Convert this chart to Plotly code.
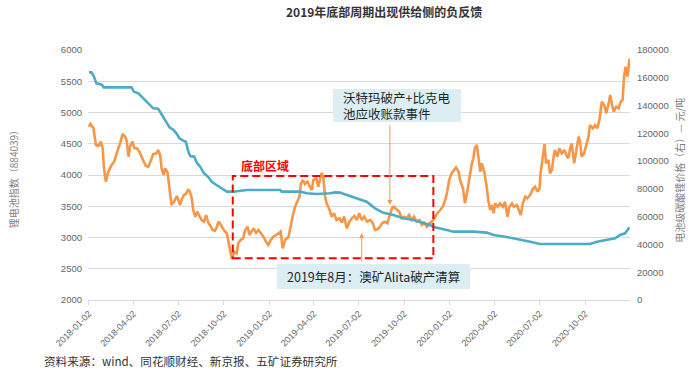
import plotly.graph_objects as go

# ---------------- data ----------------
index_dates = [
    "2018-01-02","2018-01-05","2018-01-11","2018-01-16","2018-01-21","2018-01-26","2018-01-30","2018-02-01",
    "2018-02-05","2018-02-10","2018-02-17","2018-02-22","2018-02-27","2018-03-04","2018-03-07","2018-03-11",
    "2018-03-16","2018-03-19","2018-03-23","2018-03-26","2018-03-31","2018-04-04","2018-04-09","2018-04-14",
    "2018-04-19","2018-04-23","2018-04-27","2018-05-02","2018-05-07","2018-05-12","2018-05-18","2018-05-22",
    "2018-05-26","2018-05-29","2018-06-02","2018-06-05","2018-06-10","2018-06-14","2018-06-18","2018-06-23",
    "2018-06-29","2018-07-02","2018-07-05","2018-07-09","2018-07-13","2018-07-17","2018-07-22","2018-07-26",
    "2018-07-29","2018-08-01","2018-08-05","2018-08-09","2018-08-13","2018-08-18","2018-08-23","2018-08-27",
    "2018-09-01","2018-09-05","2018-09-09","2018-09-14","2018-09-18","2018-09-21","2018-09-24","2018-09-28",
    "2018-10-02","2018-10-08","2018-10-13","2018-10-18","2018-10-23","2018-10-28","2018-10-31","2018-11-05",
    "2018-11-10","2018-11-14","2018-11-19","2018-11-23","2018-11-27","2018-12-01","2018-12-06","2018-12-11",
    "2018-12-16","2018-12-21","2018-12-26","2018-12-31","2019-01-05","2019-01-10","2019-01-16","2019-01-20",
    "2019-01-25","2019-01-29","2019-02-03","2019-02-10","2019-02-14","2019-02-18","2019-02-23","2019-02-28",
    "2019-03-04","2019-03-07","2019-03-11","2019-03-15","2019-03-20","2019-03-25","2019-03-29","2019-04-01",
    "2019-04-07","2019-04-11","2019-04-15","2019-04-18","2019-04-21","2019-04-25","2019-04-28","2019-05-04",
    "2019-05-08","2019-05-13","2019-05-18","2019-05-24","2019-05-29","2019-06-02","2019-06-08","2019-06-13",
    "2019-06-18","2019-06-23","2019-06-28","2019-07-03","2019-07-08","2019-07-13","2019-07-15","2019-07-19",
    "2019-07-25","2019-07-30","2019-08-04","2019-08-09","2019-08-14","2019-08-19","2019-08-24","2019-08-29",
    "2019-09-03","2019-09-07","2019-09-11","2019-09-17","2019-09-22","2019-09-27","2019-10-02","2019-10-07",
    "2019-10-12","2019-10-17","2019-10-22","2019-10-27","2019-11-02","2019-11-07","2019-11-11","2019-11-17",
    "2019-11-22","2019-11-27","2019-11-30","2019-12-03","2019-12-08","2019-12-14","2019-12-19","2019-12-24",
    "2019-12-28","2020-01-01","2020-01-06","2020-01-11","2020-01-15","2020-01-20","2020-01-23","2020-01-29",
    "2020-02-02","2020-02-06","2020-02-09","2020-02-12","2020-02-16","2020-02-19","2020-02-22","2020-02-26",
    "2020-02-29","2020-03-04","2020-03-07","2020-03-12","2020-03-17","2020-03-20","2020-03-24","2020-03-27",
    "2020-03-31","2020-04-03","2020-04-08","2020-04-13","2020-04-19","2020-04-23","2020-04-28","2020-05-02",
    "2020-05-07","2020-05-11","2020-05-17","2020-05-20","2020-05-25","2020-05-29","2020-06-03","2020-06-07",
    "2020-06-13","2020-06-18","2020-06-23","2020-06-28","2020-07-02","2020-07-04","2020-07-08","2020-07-12",
    "2020-07-15","2020-07-20","2020-07-23","2020-07-27","2020-07-30","2020-08-02","2020-08-07","2020-08-11",
    "2020-08-16","2020-08-21","2020-08-25","2020-08-29","2020-09-02","2020-09-05","2020-09-10","2020-09-14",
    "2020-09-19","2020-09-22","2020-09-25","2020-09-30","2020-10-04","2020-10-09","2020-10-12","2020-10-18",
    "2020-10-22","2020-10-27","2020-10-31","2020-11-05","2020-11-10","2020-11-14","2020-11-18","2020-11-22",
    "2020-11-25","2020-11-29","2020-12-04","2020-12-09","2020-12-13","2020-12-17","2020-12-20","2020-12-23",
    "2020-12-27","2020-12-30","2020-12-31",
]
index_values = [
    4773,4816,4747,4480,4464,4533,4416,4133,
    3893,4053,4160,4213,4347,4453,4533,4656,
    4613,4560,4293,4453,4533,4427,4427,4373,
    4267,4213,4144,4133,4229,4336,4347,4400,
    4320,4107,4000,4107,4037,3813,3520,3573,
    3664,3600,3520,3611,3680,3696,3771,3717,
    3627,3440,3333,3413,3344,3280,3253,3360,
    3227,3184,3120,3109,3173,3253,3227,3173,
    3120,3067,2827,2660,2773,2747,2907,2960,
    2987,3120,3173,3040,3093,3147,3077,3120,
    3067,3013,2933,2880,2960,3013,3040,3067,
    3093,2827,2960,3013,3200,3333,3493,3600,
    3653,3867,3920,3856,3893,3813,3760,3920,
    3947,3813,3920,4037,3973,3653,3547,3440,
    3333,3387,3280,3307,3237,3333,3147,3253,
    3307,3344,3280,3387,3280,3333,3307,3253,
    3280,3237,3120,3131,3173,3237,3253,3227,
    3360,3467,3493,3440,3413,3307,3333,3307,
    3360,3280,3333,3253,3280,3200,3237,3173,
    3227,3253,3291,3333,3387,3440,3493,3600,
    3733,3920,4027,4080,4123,4053,3920,3787,
    3547,3707,3867,4027,4187,4267,4427,4480,
    4293,4053,4187,4053,3813,3600,3440,3520,
    3387,3547,3493,3547,3493,3573,3333,3493,
    3547,3493,3520,3467,3360,3547,3653,3627,
    3680,3771,3813,3733,3787,4027,4293,4496,
    4187,4240,4027,4080,4267,4400,4293,4427,
    4347,4400,4320,4267,4427,4507,4187,4373,
    4613,4533,4293,4347,4453,4613,4800,4747,
    4800,4747,4880,5173,5120,4987,5120,5280,
    5147,5013,5093,5067,5173,5200,5573,5733,
    5573,5840,5860,
]

price_dates = [
    "2018-01-02","2018-01-07","2018-01-12","2018-01-17","2018-01-28","2018-02-01","2018-03-29","2018-04-03",
    "2018-04-12","2018-04-19","2018-04-25","2018-05-06","2018-05-12","2018-05-22","2018-05-29","2018-06-07",
    "2018-06-14","2018-06-22","2018-06-29","2018-07-04","2018-07-12","2018-07-17","2018-07-22","2018-07-26",
    "2018-08-03","2018-08-08","2018-08-15","2018-08-23","2018-09-01","2018-09-07","2018-09-17","2018-10-02",
    "2018-10-08","2018-10-21","2018-11-17","2019-01-24","2019-01-27","2019-03-05","2019-03-19","2019-04-08",
    "2019-04-21","2019-05-05","2019-05-15","2019-05-25","2019-06-08","2019-06-21","2019-07-05","2019-07-18",
    "2019-08-04","2019-08-21","2019-09-10","2019-09-30","2019-10-21","2019-11-10","2019-11-23","2019-12-03",
    "2019-12-14","2019-12-27","2020-01-10","2020-02-19","2020-03-17","2020-03-31","2020-04-23","2020-05-23",
    "2020-06-13","2020-07-03","2020-10-12","2020-10-26","2020-11-15","2020-12-02","2020-12-12","2020-12-22",
    "2020-12-31",
]
price_values = [
    163900,163900,160800,156000,155000,153100,153100,150000,
    148800,146400,143900,140400,138000,137700,133200,128400,
    124300,122400,119500,116400,114700,114000,106800,103700,
    103200,98900,96000,91200,88300,85200,82800,79200,
    78000,78000,79200,79200,78000,78000,76800,76300,
    76300,76800,77500,77300,75600,74000,72000,70800,
    66000,62800,61200,58800,57600,55700,54000,52300,
    51600,50400,49200,49200,48500,46800,45600,43700,
    42000,40300,40300,42000,43200,44400,46800,48000,
    52300,
]

tick_labels = ["2018-01-02","2018-04-02","2018-07-02","2018-10-02","2019-01-02","2019-04-02",
               "2019-07-02","2019-10-02","2020-01-02","2020-04-02","2020-07-02","2020-10-02"]

title_text = "2019年底部周期出现供给侧的负反馈"
left_title = "锂电池指数（884039）"
right_title = "电池级碳酸锂价格（右）— 元/吨"
source_text = "资料来源：wind、同花顺财经、新京报、五矿证券研究所"
note_box = "沃特玛破产+比克电<br>池应收账款事件"
note_alita = "2019年8月：澳矿Alita破产清算"
bottom_label = "底部区域"

ORANGE = "#F79646"
TEAL = "#4BACC6"
FONT = "Noto Sans CJK SC"

fig = go.Figure()
fig.add_trace(go.Scatter(x=price_dates, y=price_values, yaxis="y2", mode="lines",
                         line=dict(color=TEAL, width=2.6), name="电池级碳酸锂价格"))
fig.add_trace(go.Scatter(x=index_dates, y=index_values, yaxis="y", mode="lines",
                         line=dict(color=ORANGE, width=2.6), name="锂电池指数"))

# bottom region rectangle
fig.add_shape(type="rect", xref="x", yref="y", x0="2018-10-20", x1="2019-11-30", y0=2667, y1=3984,
              line=dict(color="#FF0000", width=2, dash="8px,4px"), fillcolor="rgba(0,0,0,0)")
# annotation boxes
fig.add_shape(type="rect", xref="x", yref="y", x0="2019-05-11", x1="2020-01-25", y0=4848, y1=5376,
              line=dict(width=0), fillcolor="#DCEEF4", layer="above")
fig.add_shape(type="rect", xref="x", yref="y", x0="2019-01-17", x1="2020-02-12", y0=2176, y1=2576,
              line=dict(width=0), fillcolor="#DCEEF4", layer="above")

ann = []
ann.append(dict(text=note_box, xref="x", yref="y", x="2019-05-27", y=5112, xanchor="left", yanchor="middle",
                align="left", showarrow=False, font=dict(family=FONT, size=12.5, color="#262626")))
ann.append(dict(text=note_alita, xref="x", yref="y", x="2019-08-01", y=2376, xanchor="center", yanchor="middle",
                showarrow=False, font=dict(family=FONT, size=12.5, color="#262626")))
ann.append(dict(text="", xref="x", yref="y", x="2019-09-03", y=3520, axref="x", ayref="y",
                ax="2019-09-03", ay=4820, showarrow=True, arrowhead=2, arrowsize=1, arrowwidth=1,
                arrowcolor=ORANGE, standoff=0))
ann.append(dict(text="", xref="x", yref="y", x="2019-07-08", y=3072, axref="x", ayref="y",
                ax="2019-07-08", ay=2590, showarrow=True, arrowhead=2, arrowsize=1, arrowwidth=1,
                arrowcolor=ORANGE, standoff=0))
ann.append(dict(text="<b>" + bottom_label + "</b>", xref="x", yref="y", x="2018-11-01", y=4160,
                xanchor="left", yanchor="middle", showarrow=False,
                font=dict(family=FONT, size=12, color="#FF0000")))
ann.append(dict(text="<b>" + title_text + "</b>", xref="paper", yref="paper", x=0.546, y=1.156,
                xanchor="center", yanchor="middle", showarrow=False,
                font=dict(family=FONT, size=12, color="#333333")))
ann.append(dict(text=left_title, xref="paper", yref="paper", x=-0.138, y=0.492, textangle=-90,
                xanchor="center", yanchor="middle", showarrow=False,
                font=dict(family=FONT, size=10, color="#7F7F7F")))
ann.append(dict(text=right_title, xref="paper", yref="paper", x=1.090, y=0.52, textangle=-90,
                xanchor="center", yanchor="middle", showarrow=False,
                font=dict(family=FONT, size=10, color="#7F7F7F")))
ann.append(dict(text=source_text, xref="paper", yref="paper", x=-0.085, y=-0.244,
                xanchor="left", yanchor="middle", showarrow=False,
                font=dict(family=FONT, size=11.6, color="#333333")))

fig.update_layout(
    width=693, height=373,
    margin=dict(l=88, r=63, t=50, b=73, autoexpand=False),
    paper_bgcolor="white", plot_bgcolor="white",
    showlegend=False,
    annotations=ann,
    xaxis=dict(type="date", range=["2017-12-31", "2021-01-01"], automargin=False,
               tickvals=tick_labels, ticktext=tick_labels, tickangle=-45,
               tickfont=dict(family="Liberation Sans", size=9, color="#666666"),
               showgrid=False, showline=True, linecolor="#D9D9D9", linewidth=1,
               ticks="outside", ticklen=4, tickcolor="#D9D9D9", zeroline=False),
    yaxis=dict(range=[2000, 6000], dtick=500, tick0=2000, automargin=False,
               tickfont=dict(family="Liberation Sans", size=9.5, color="#666666"),
               showgrid=True, gridcolor="#D9D9D9", gridwidth=1, zeroline=False,
               ticklabelstandoff=5),
    yaxis2=dict(range=[0, 180000], dtick=20000, tick0=0, overlaying="y", side="right",
                automargin=False, tickformat="d",
                tickfont=dict(family="Liberation Sans", size=9.5, color="#666666"),
                showgrid=False, zeroline=False, ticklabelstandoff=6),
)

fig.write_html("out.html", config={"displayModeBar": False},
               post_script="document.body.style.margin='0';document.body.style.padding='0';document.body.style.overflow='hidden';")
